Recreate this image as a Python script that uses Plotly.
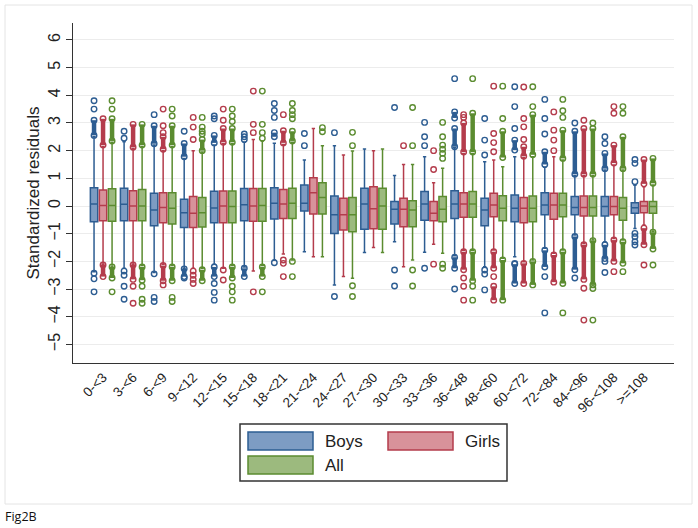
import plotly.graph_objects as go

categories = ["0-<3", "3-<6", "6-<9", "9-<12", "12-<15", "15-<18", "18-<21", "21-<24",
              "24-<27", "27-<30", "30-<33", "33-<36", "36-<48", "48-<60", "60-<72",
              "72-<84", "84-<96", "96-<108", ">=108"]

# ---- Boys ----
boys_q1 = [-0.57, -0.53, -0.71, -0.78, -0.60, -0.53, -0.47, -0.18, -0.99, -0.84, -0.65, -0.51, -0.45, -0.71, -0.57, -0.32, -0.32, -0.36, -0.26]
boys_med = [0.07, 0.06, -0.14, -0.24, -0.07, 0.05, 0.10, 0.10, -0.32, 0.07, -0.12, 0.07, 0.07, -0.14, -0.08, 0.04, -0.05, -0.02, -0.06]
boys_q3 = [0.66, 0.64, 0.46, 0.24, 0.53, 0.63, 0.66, 0.76, 0.36, 0.64, 0.16, 0.52, 0.55, 0.28, 0.40, 0.48, 0.34, 0.34, 0.12]
boys_lo = [-2.37, -2.25, -2.40, -2.25, -2.10, -2.20, -1.95, -1.65, -2.85, -1.68, -1.29, -1.67, -1.80, -2.19, -1.83, -1.53, -1.05, -1.29, -0.81]
boys_hi = [2.50, 2.32, 2.20, 1.72, 2.20, 2.30, 2.27, 1.66, 2.18, 2.06, 1.10, 1.78, 2.10, 1.60, 1.78, 1.40, 1.10, 1.30, 0.75]
boys_out = [[3.5, 3.8, -2.43, -2.63, -3.1], [2.45, 2.7, -2.35, -2.5, -2.9, -3.37],
            [3.3, -2.45, -3.3, -3.45], [2.7, -2.6], [3.15, 3.25, -2.8, -3.12, -3.4],
            [2.4, 2.5, 2.6], [3.2, 3.45, 3.7, -2.05], [2.18, 2.62], [2.65, -3.27], [],
            [3.56, -2.31, -2.89], [2.18, 2.5, 3.02, -2.25], [4.6, -3.0],
            [1.84, 2.38, 3.16, -2.31, -2.46, -3.03], [2.8, 3.59, 4.31, -2.07],
            [2.6, 3.16, 3.85, -2.55, -3.86], [3.0, -2.6], [2.26, 2.5, -2.0, -2.4],
            [0.88, 1.54, 1.68, -0.99, -1.11, -1.29, -1.41]]
boys_dense = [[(2.55, 3.1)], [], [(2.25, 2.9)], [(1.78, 2.26), (-2.27, -2.55)],
              [(2.28, 2.55), (-2.2, -2.55)], [(-2.25, -2.55)], [(2.5, 2.65)], [], [], [], [], [],
              [(3.18, 3.4), (2.14, 2.8), (-1.85, -2.25)], [], [(2.02, 2.38), (-2.1, -2.8)],
              [(1.5, 1.96), (-1.6, -2.2)], [(1.15, 2.7), (-1.1, -2.3)],
              [(1.35, 1.9), (-1.4, -1.9)], []]

# ---- Girls ----
girls_q1 = [-0.53, -0.53, -0.60, -0.78, -0.60, -0.55, -0.45, -0.29, -0.87, -0.82, -0.75, -0.53, -0.41, -0.39, -0.60, -0.48, -0.36, -0.32, -0.24]
girls_med = [0.02, 0.00, -0.05, -0.26, 0.00, 0.00, 0.07, 0.48, -0.32, -0.10, -0.12, -0.26, 0.07, 0.04, -0.08, 0.04, -0.05, -0.02, 0.00]
girls_q3 = [0.58, 0.55, 0.48, 0.34, 0.54, 0.63, 0.60, 1.02, 0.28, 0.70, 0.28, 0.16, 0.48, 0.46, 0.31, 0.46, 0.36, 0.34, 0.16]
girls_lo = [-2.10, -2.10, -2.10, -2.25, -2.25, -2.35, -1.73, -1.83, -2.55, -1.50, -2.19, -1.38, -1.60, -1.59, -2.01, -1.71, -1.35, -1.17, -0.69]
girls_hi = [2.15, 2.08, 2.00, 2.00, 2.25, 2.40, 2.22, 2.80, 1.84, 2.00, 1.50, 0.84, 1.90, 1.66, 1.75, 1.78, 1.10, 1.48, 0.70]
girls_out = [[], [-2.9, -3.51], [2.65, 2.9, 3.5, -2.85], [2.4, 2.85, 3.2, -2.35, -2.5, -2.65, -2.8],
             [3.1, 3.5, -2.31, -2.67], [2.65, 2.95, 4.15, -3.1], [3.3, -1.95, -2.07, -2.55],
             [], [], [], [2.18], [1.32, 2.0, -2.1], [3.2, 3.3, -2.6, -2.9, -3.4],
             [1.96, 2.29, 2.62, 4.33, -2.55], [2.4, 2.86, 3.16, 4.3], [2.0, 2.38, 2.74, 3.4],
             [3.1, -2.97, -4.12], [3.35, 3.59, -2.37], [-2.13]]
girls_dense = [[(2.2, 3.15), (-2.13, -2.55)], [(2.12, 2.95), (-2.13, -2.65)],
               [(2.05, 2.5), (-2.15, -2.7)], [], [(2.3, 2.8)], [], [(2.28, 2.72)], [], [], [], [], [],
               [(1.95, 3.0), (-1.65, -2.3)], [(-1.65, -2.25), (-2.9, -3.4)],
               [(1.8, 2.14), (-2.07, -2.8)], [(-1.77, -2.75)], [(1.15, 2.8), (-1.4, -2.65)],
               [(1.55, 2.2), (-1.23, -2.0)], [(0.8, 1.68), (-0.8, -1.4)]]

# ---- All ----
all_q1 = [-0.55, -0.53, -0.65, -0.76, -0.60, -0.55, -0.45, -0.29, -0.93, -0.84, -0.75, -0.57, -0.41, -0.53, -0.57, -0.39, -0.36, -0.51, -0.26]
all_med = [0.02, 0.00, -0.08, -0.24, -0.02, 0.02, 0.10, 0.31, -0.32, 0.00, -0.14, -0.12, 0.07, -0.08, -0.08, 0.04, -0.05, -0.08, -0.02]
all_q3 = [0.62, 0.60, 0.48, 0.31, 0.54, 0.63, 0.64, 0.84, 0.31, 0.64, 0.19, 0.34, 0.52, 0.37, 0.36, 0.46, 0.36, 0.31, 0.16]
all_lo = [-2.20, -2.15, -2.15, -2.25, -2.15, -2.15, -1.95, -1.83, -2.61, -1.68, -1.95, -1.71, -1.60, -1.89, -1.95, -1.59, -1.23, -1.23, -0.93]
all_hi = [2.30, 2.15, 2.15, 1.95, 2.25, 2.35, 2.30, 2.18, 1.99, 2.06, 1.50, 1.36, 1.90, 1.42, 1.78, 1.66, 1.10, 1.30, 0.76]
all_out = [[3.5, 3.8, -3.1], [-2.9, -3.37, -3.51], [3.25, 3.5, -3.3, -3.45], [2.6, 2.7, 2.85, 3.2],
           [3.05, 3.25, 3.5, -2.9, -3.1, -3.4], [2.45, 2.65, 2.95, 4.15, -3.1],
           [3.15, 3.3, 3.45, 3.7, -2.0, -2.55], [2.68, 2.83], [2.18, 2.66, -2.88, -3.27], [],
           [2.18, 3.56, -2.31, -2.89], [1.72, 1.9, 2.05, 2.2, 2.5, 3.02, -2.1, -2.25],
           [4.6, -2.9, -3.4], [3.16, 4.33], [3.59, 4.31], [3.2, 3.44, 3.85, -3.86],
           [3.0, -2.98, -4.12], [3.35, 3.59, -2.37], [-2.13]]
all_dense = [[(2.35, 3.15), (-2.2, -2.6)], [(2.2, 2.95), (-2.2, -2.68)], [(2.2, 2.9), (-2.2, -2.7)],
             [(2.0, 2.4), (-2.3, -2.7)], [(2.3, 2.8), (-2.2, -2.6)], [(-2.2, -2.55)], [(2.35, 2.7)],
             [], [], [], [], [], [(1.95, 3.35), (-1.65, -2.7)], [(1.75, 2.7), (-1.95, -3.4)],
             [(1.85, 3.3), (-2.0, -2.85)], [(1.72, 2.74), (-1.65, -2.8)], [(1.15, 2.8), (-1.25, -2.85)],
             [(1.35, 2.5), (-1.29, -2.07)], [(0.82, 1.72), (-0.95, -1.55)]]

groups = [
    ("Boys", boys_q1, boys_med, boys_q3, boys_lo, boys_hi, boys_out, boys_dense,
     "#7d9cc3", "#2d5d92", -0.3),
    ("Girls", girls_q1, girls_med, girls_q3, girls_lo, girls_hi, girls_out, girls_dense,
     "#d8929a", "#b43c4c", 0.0),
    ("All", all_q1, all_med, all_q3, all_lo, all_hi, all_out, all_dense,
     "#9cba7e", "#5b8c30", 0.3),
]

fig = go.Figure()
for name, q1, med, q3, lo, hi, outs, dense, fill, edge, off in groups:
    xs = [i + off for i in range(len(categories))]
    fig.add_trace(go.Box(
        x=xs, q1=q1, median=med, q3=q3, lowerfence=lo, upperfence=hi,
        name=name, width=0.245, fillcolor=fill, line=dict(color=edge, width=1.5),
        whiskerwidth=0.45, boxpoints=False, showlegend=False))
    dx, dy = [], []
    for i, segs in enumerate(dense):
        for a, b in segs:
            dx += [xs[i], xs[i], None]
            dy += [a, b, None]
    fig.add_trace(go.Scatter(
        x=dx, y=dy, mode="lines+markers", showlegend=False, hoverinfo="skip",
        line=dict(color=edge, width=4.5),
        marker=dict(symbol="circle-open", size=5.5, color=edge, line=dict(width=1.4))))
    ox, oy = [], []
    for i, vals in enumerate(outs):
        for v in vals:
            ox.append(xs[i])
            oy.append(v)
    fig.add_trace(go.Scatter(
        x=ox, y=oy, mode="markers", showlegend=False,
        marker=dict(symbol="circle-open", size=5.5, color=edge, line=dict(width=1.4))))

# pixel helpers for decorations
L, R, T, B = 73, 24, 23, 165
W, H = 698, 528
PW, PH = W - L - R, H - T - B
def px(x):
    return (x - L) / PW
def py(y):
    return (H - B - y) / PH

shapes = [
    dict(type="rect", xref="paper", yref="paper", x0=px(5), x1=px(692), y0=py(504), y1=py(5),
         line=dict(color="#e4e4e4", width=1), layer="below"),
    dict(type="rect", xref="paper", yref="paper", x0=px(240), x1=px(507), y0=py(481), y1=py(424),
         line=dict(color="#333333", width=1.5), fillcolor="white"),
]
annotations = []
legend_items = [("Boys", 248, 432, "#7d9cc3", "#2d5d92"),
                ("Girls", 388, 432, "#d8929a", "#b43c4c"),
                ("All", 248, 456, "#9cba7e", "#5b8c30")]
for name, lx, ly, fill, edge in legend_items:
    shapes.append(dict(type="rect", xref="paper", yref="paper", x0=px(lx), x1=px(lx + 65),
                       y0=py(ly + 18), y1=py(ly), fillcolor=fill, line=dict(color=edge, width=1.5)))
    annotations.append(dict(text=name, xref="paper", yref="paper", x=px(lx + 75), y=py(ly + 9),
                            xanchor="left", yanchor="middle", showarrow=False,
                            font=dict(family="Liberation Sans, Arial", size=17, color="#222")))
annotations.append(dict(text="Fig2B", xref="paper", yref="paper", x=px(3), y=py(516),
                        xanchor="left", yanchor="middle", showarrow=False,
                        font=dict(family="Open Sans, Noto Sans", size=12.5, color="#111")))

fig.update_layout(
    width=W, height=H, margin=dict(l=L, r=R, t=T, b=B, autoexpand=False),
    paper_bgcolor="white", plot_bgcolor="white",
    shapes=shapes, annotations=annotations,
    font=dict(family="Liberation Sans, Arial", color="#222"),
    xaxis=dict(range=[-1, 19], tickmode="array", tickvals=list(range(len(categories))),
               ticktext=categories, tickangle=-45, showgrid=False, zeroline=False,
               showline=True, linecolor="#333", linewidth=1.2, ticks="",
               tickfont=dict(size=13.5), automargin=False),
    yaxis=dict(range=[-5.67, 6.61], tickmode="array", tickvals=list(range(-5, 7)),
               tickangle=-90, showgrid=True, gridcolor="#ececec", gridwidth=1, zeroline=False,
               showline=True, linecolor="#333", linewidth=1.2, ticks="outside", ticklen=6,
               tickcolor="#333", tickfont=dict(size=16), automargin=False,
               title=dict(text="Standardized residuals", font=dict(size=17), standoff=1)),
)

fig.write_html("out.html", config={"displayModeBar": False},
               post_script="document.body.style.margin='0';")
